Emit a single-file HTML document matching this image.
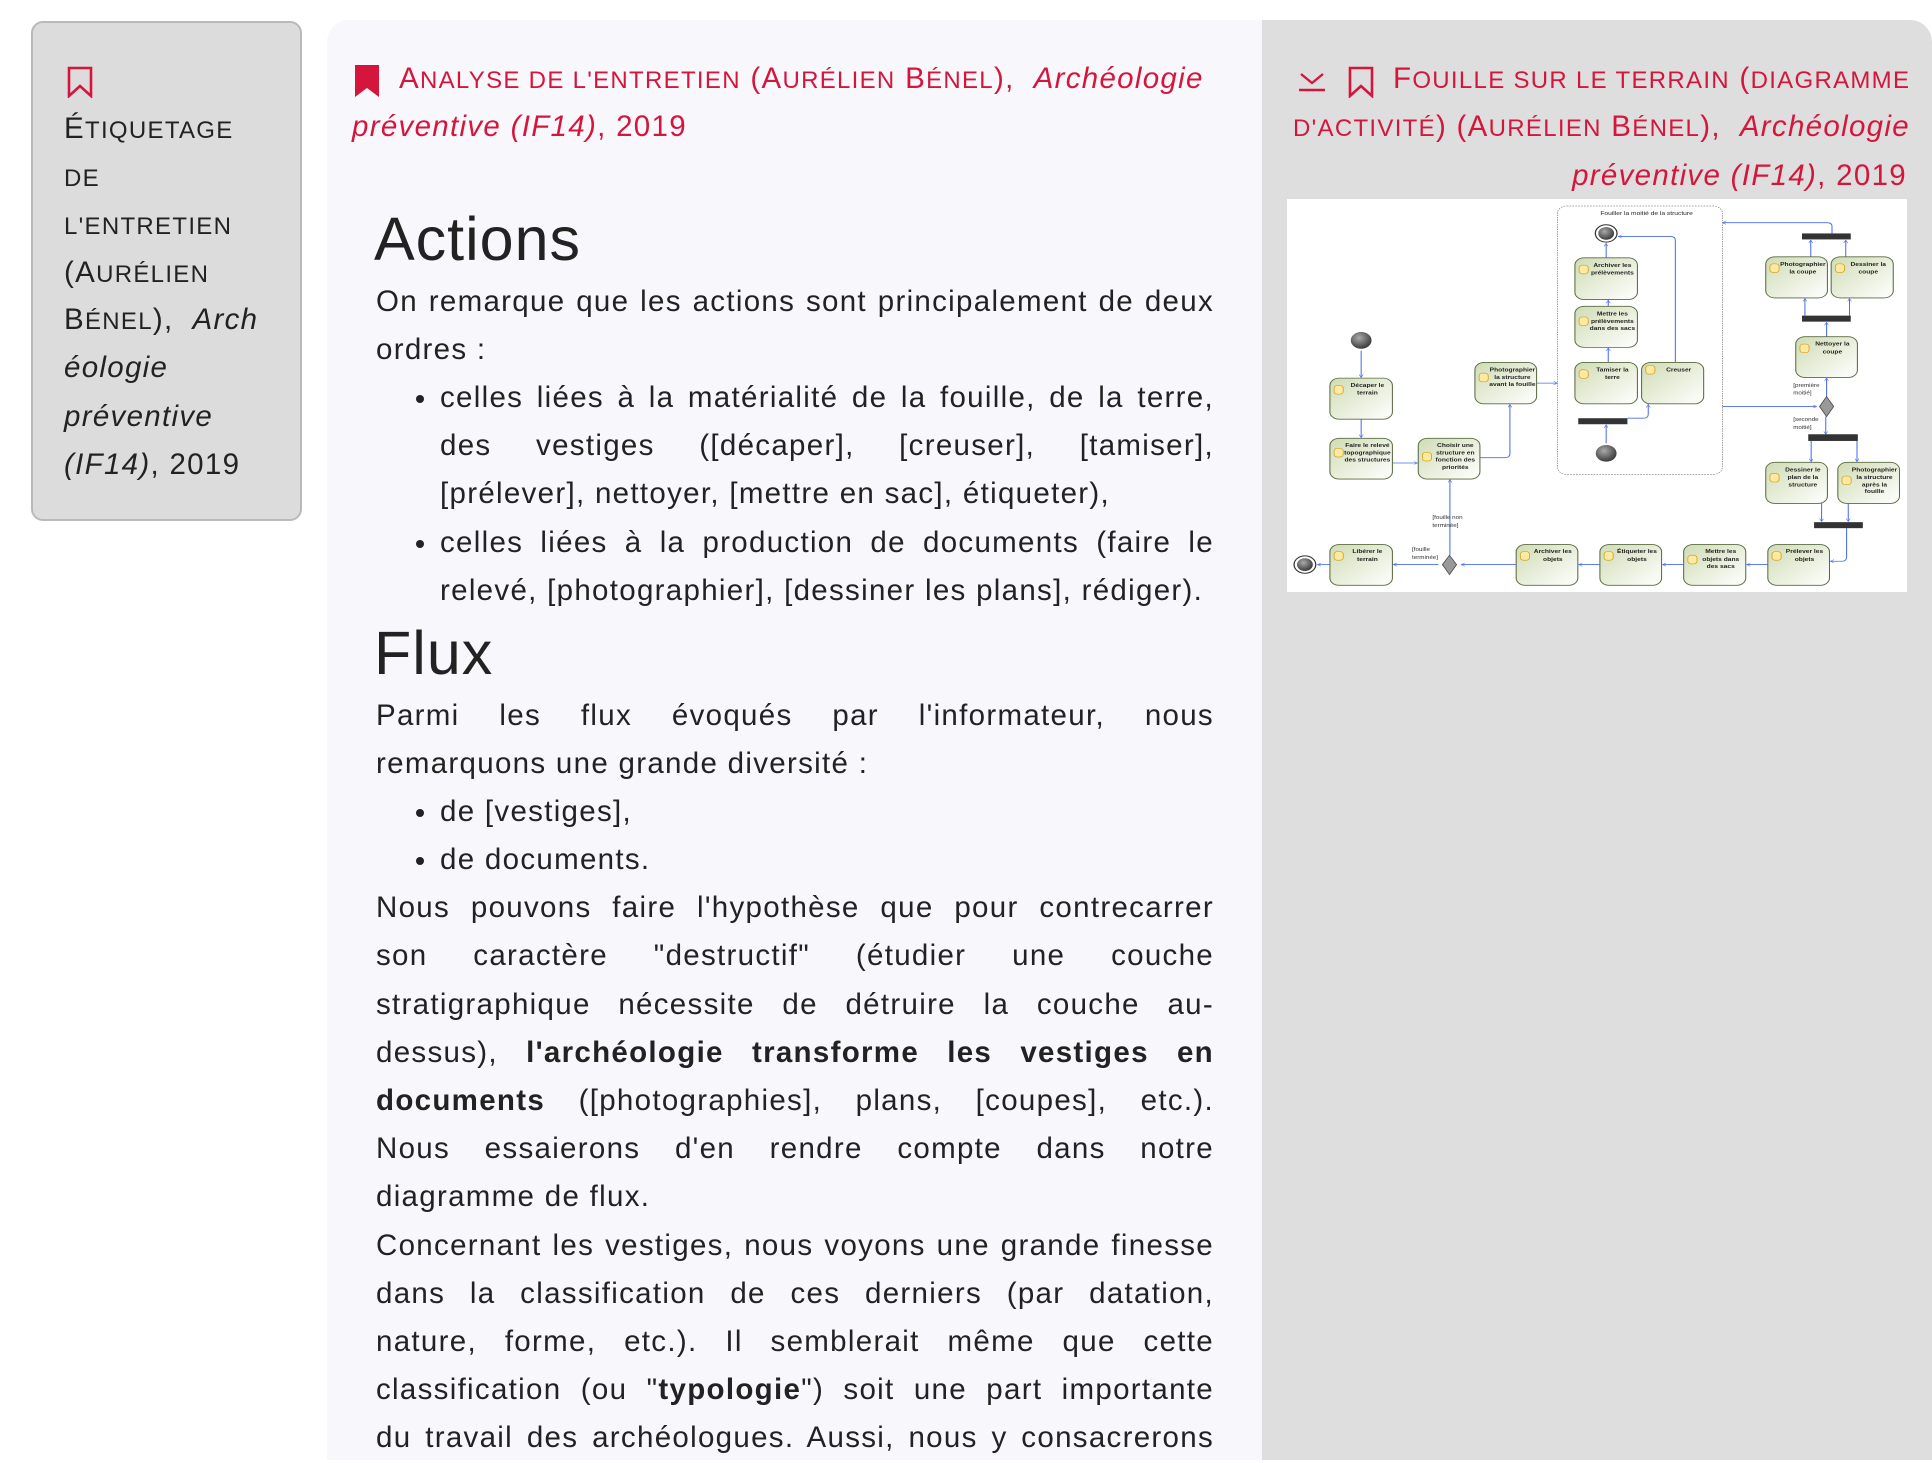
<!DOCTYPE html>
<html><head><meta charset="utf-8">
<style>
*{margin:0;padding:0;box-sizing:border-box}
html,body{width:1932px;height:1450px;overflow:hidden;background:#fff;font-family:"Liberation Sans",sans-serif;color:#222}
.left{position:absolute;left:31px;top:21px;width:271px;height:500px;background:#dcdcdc;border:2px solid #b9b9b9;border-radius:12px}
.mid{position:absolute;left:327px;top:20px;width:935px;height:1440px;background:#f8f8fc;border-radius:22px 0 0 0}
.right{position:absolute;left:1262px;top:20px;width:670px;height:1440px;background:#dedede;border-radius:0 22px 0 0}
.red{color:#d4163c}
.s{font-size:24px}
.ln{position:absolute;font-size:29.5px;line-height:48px;height:48px;white-space:nowrap;letter-spacing:1.3px}
.txt{position:absolute;left:376px;top:277.6px;width:838px;font-size:29.5px;letter-spacing:1.3px}
.txt div{height:48.2px;line-height:48.2px;white-space:nowrap}
.j{text-align:justify;text-align-last:justify}
.b{padding-left:64px;position:relative}
.bu::before{content:"";position:absolute;left:40px;top:21px;width:8px;height:8px;border-radius:50%;background:#222}
h1{position:absolute;left:374px;font-size:61px;font-weight:normal;line-height:70px;color:#222;letter-spacing:1px}
</style></head><body>
<div class="left"></div>
<div class="mid"></div>
<div class="right"></div>

<!-- left panel -->
<svg style="position:absolute;left:67px;top:66px" width="26" height="32" viewBox="0 0 26 32"><path d="M2 2H24V30L13 20L2 30Z" fill="none" stroke="#d4163c" stroke-width="2.6"/></svg>
<div class="ln" style="left:64px;top:104.5px">É<span class="s">TIQUETAGE</span></div>
<div class="ln" style="left:64px;top:152.8px"><span class="s">DE</span></div>
<div class="ln" style="left:64px;top:201px"><span class="s">L'ENTRETIEN</span></div>
<div class="ln" style="left:64px;top:249.2px">(A<span class="s">URÉLIEN</span></div>
<div class="ln" style="left:64px;top:296px">B<span class="s">ÉNEL</span>),&nbsp; <i>Arch</i></div>
<div class="ln" style="left:64px;top:344.3px"><i>éologie</i></div>
<div class="ln" style="left:64px;top:392.5px"><i>préventive</i></div>
<div class="ln" style="left:64px;top:440.7px"><i>(IF14)</i>, 2019</div>

<!-- middle title -->
<svg style="position:absolute;left:354px;top:64px" width="26" height="34" viewBox="0 0 26 34"><path d="M1 1H25V33L13 24L1 33Z" fill="#d4163c"/></svg>
<div class="ln red" style="left:399px;top:55px">A<span class="s">NALYSE DE L'ENTRETIEN</span> (A<span class="s">URÉLIEN</span> B<span class="s">ÉNEL</span>),&nbsp; <i>Archéologie</i></div>
<div class="ln red" style="left:352px;top:103px"><i>préventive (IF14)</i>, 2019</div>

<h1 style="top:204px">Actions</h1>
<div class="txt">
<div class="j">On remarque que les actions sont principalement de deux</div>
<div>ordres :</div>
<div class="b bu j">celles liées à la matérialité de la fouille, de la terre,</div>
<div class="b j">des vestiges ([décaper], [creuser], [tamiser],</div>
<div class="b">[prélever], nettoyer, [mettre en sac], étiqueter),</div>
<div class="b bu j">celles liées à la production de documents (faire le</div>
<div class="b">relevé, [photographier], [dessiner les plans], rédiger).</div>
<div style="height:76.6px"></div>
<div class="j">Parmi les flux évoqués par l'informateur, nous</div>
<div>remarquons une grande diversité :</div>
<div class="b bu">de [vestiges],</div>
<div class="b bu">de documents.</div>
<div class="j">Nous pouvons faire l'hypothèse que pour contrecarrer</div>
<div class="j">son caractère "destructif" (étudier une couche</div>
<div class="j">stratigraphique nécessite de détruire la couche au-</div>
<div class="j">dessus), <b>l'archéologie transforme les vestiges en</b></div>
<div class="j"><b>documents</b> ([photographies], plans, [coupes], etc.).</div>
<div class="j">Nous essaierons d'en rendre compte dans notre</div>
<div>diagramme de flux.</div>
<div class="j">Concernant les vestiges, nous voyons une grande finesse</div>
<div class="j">dans la classification de ces derniers (par datation,</div>
<div class="j">nature, forme, etc.). Il semblerait même que cette</div>
<div class="j">classification (ou "<b>typologie</b>") soit une part importante</div>
<div class="j">du travail des archéologues. Aussi, nous y consacrerons</div>
</div>
<h1 style="top:618px">Flux</h1>

<!-- right title -->
<svg style="position:absolute;left:1297px;top:70px" width="30" height="22" viewBox="0 0 30 22"><path d="M4 4L15 13L26 4M2 20H28" fill="none" stroke="#d4163c" stroke-width="2.4"/></svg>
<svg style="position:absolute;left:1348px;top:66px" width="26" height="32" viewBox="0 0 26 32"><path d="M2 2H24V30L13 20L2 30Z" fill="none" stroke="#d4163c" stroke-width="2.6"/></svg>
<div class="ln red" style="left:1393px;top:55px;width:514px;text-align:justify;text-align-last:justify">F<span class="s">OUILLE SUR LE TERRAIN</span> (<span class="s">DIAGRAMME</span></div>
<div class="ln red" style="left:1293px;top:103px;width:614px;text-align:justify;text-align-last:justify"><span class="s">D'ACTIVITÉ</span>) (A<span class="s">URÉLIEN</span> B<span class="s">ÉNEL</span>),&nbsp; <i>Archéologie</i></div>
<div class="ln red" style="left:1293px;top:152px;width:614px;text-align:right"><i>préventive (IF14)</i>, 2019</div>

<!-- diagram -->
<svg style="position:absolute;left:1287px;top:199px;background:#fff" width="620" height="393" viewBox="7 24 1488 1176" preserveAspectRatio="none">
<defs>
<linearGradient id="g" x1="0" y1="0" x2="1" y2="1"><stop offset="0" stop-color="#cfdcb4"/><stop offset="1" stop-color="#fff"/></linearGradient>
<radialGradient id="c" cx="0.4" cy="0.35" r="0.7"><stop offset="0" stop-color="#aaa"/><stop offset="1" stop-color="#333"/></radialGradient>
<marker id="a" markerWidth="10" markerHeight="10" refX="9" refY="5" orient="auto" markerUnits="userSpaceOnUse"><path d="M0 0L9 5L0 10" fill="none" stroke="#4a6cf0" stroke-width="1.5"/></marker>
</defs>
<g fill="none" stroke="#4a6cf0" stroke-width="2.5" marker-end="url(#a)">
<path d="M185 478V558"/><path d="M185 683V738"/><path d="M260 814H320"/>
<path d="M470 798H530Q542 798 542 786V639"/><path d="M606 575H656"/>
<path d="M773 755V700"/><path d="M824 680H862Q874 680 874 668V639"/>
<path d="M778 513V470"/><path d="M778 345V327"/><path d="M773 200V157"/>
<path d="M939 513V148Q939 136 927 136H802"/>
<path d="M1052 645H1278"/><path d="M1302 615V560"/><path d="M1302 436V393"/>
<path d="M1250 373V322"/><path d="M1357 373V322"/><path d="M1264 197V147"/><path d="M1348 197V147"/>
<path d="M1315 127V106Q1315 95 1303 95H1052"/>
<path d="M1300 675V728"/><path d="M1265 748V810"/><path d="M1375 748V810"/>
<path d="M1290 935V989"/><path d="M1354 935V989"/>
<path d="M1350 1009V1096Q1350 1108 1338 1108H1311"/>
<path d="M1161 1118H1110"/><path d="M959 1118H908"/><path d="M758 1118H707"/><path d="M557 1118H425"/>
<path d="M398 1090V864"/><path d="M370 1118H262"/><path d="M110 1118H80"/>
</g>
<rect x="656" y="45" width="396" height="803" rx="22" fill="none" stroke="#888" stroke-width="2" stroke-dasharray="4 3"/>
<text x="870" y="72" font-size="16" text-anchor="middle" fill="#222" font-family="Liberation Sans">Fouiller la moitié de la structure</text>
<g stroke="#5a6b40" stroke-width="2.5" fill="url(#g)">
<rect x="110" y="560" width="150" height="123" rx="22"/><rect x="110" y="740" width="150" height="122" rx="22"/>
<rect x="322" y="740" width="148" height="122" rx="22"/><rect x="458" y="513" width="148" height="124" rx="22"/>
<rect x="698" y="200" width="150" height="125" rx="22"/><rect x="698" y="345" width="150" height="123" rx="22"/>
<rect x="698" y="513" width="150" height="124" rx="22"/><rect x="858" y="513" width="149" height="124" rx="22"/>
<rect x="1156" y="197" width="148" height="123" rx="22"/><rect x="1313" y="197" width="149" height="123" rx="22"/>
<rect x="1228" y="436" width="148" height="122" rx="22"/><rect x="1156" y="812" width="148" height="123" rx="22"/>
<rect x="1329" y="812" width="148" height="123" rx="22"/><rect x="1161" y="1058" width="148" height="122" rx="22"/>
<rect x="959" y="1058" width="149" height="122" rx="22"/><rect x="758" y="1058" width="148" height="122" rx="22"/>
<rect x="557" y="1058" width="148" height="122" rx="22"/><rect x="110" y="1058" width="150" height="122" rx="22"/>
</g>
<g fill="#333"><rect x="706" y="680" width="118" height="18"/><rect x="1243" y="127" width="117" height="18"/><rect x="1243" y="373" width="117" height="18"/><rect x="1258" y="728" width="119" height="20"/><rect x="1272" y="991" width="117" height="18"/></g>
<g fill="#999" stroke="#444" stroke-width="2"><path d="M1302 615L1319 645L1302 675L1285 645Z"/><path d="M397 1090L414 1118L397 1148L380 1118Z"/></g>
<g fill="url(#c)"><circle cx="185" cy="447" r="25"/><circle cx="773" cy="785" r="25"/><circle cx="773" cy="127" r="19"/><circle cx="50" cy="1118" r="19"/></g>
<g fill="none" stroke="#333" stroke-width="3"><circle cx="773" cy="127" r="26"/><circle cx="50" cy="1118" r="26"/></g>
<g fill="#fde9a0" stroke="#d4a020" stroke-width="2">
<rect x="120" y="582" width="22" height="26" rx="8"/><rect x="120" y="770" width="22" height="26" rx="8"/><rect x="332" y="782" width="22" height="26" rx="8"/><rect x="468" y="545" width="22" height="26" rx="8"/><rect x="708" y="222" width="22" height="26" rx="8"/><rect x="708" y="377" width="22" height="26" rx="8"/><rect x="708" y="535" width="22" height="26" rx="8"/><rect x="868" y="522" width="22" height="26" rx="8"/><rect x="1166" y="218" width="22" height="26" rx="8"/><rect x="1323" y="218" width="22" height="26" rx="8"/><rect x="1238" y="458" width="22" height="26" rx="8"/><rect x="1166" y="845" width="22" height="26" rx="8"/><rect x="1339" y="853" width="22" height="26" rx="8"/><rect x="1171" y="1079" width="22" height="26" rx="8"/><rect x="969" y="1090" width="22" height="26" rx="8"/><rect x="768" y="1079" width="22" height="26" rx="8"/><rect x="567" y="1079" width="22" height="26" rx="8"/><rect x="120" y="1079" width="22" height="26" rx="8"/>
</g>
<g font-family="Liberation Sans" font-size="16" font-weight="bold" fill="#222" text-anchor="middle">
<text x="200" y="586">Décaper le</text><text x="200" y="609">terrain</text>
<text x="200" y="766">Faire le relevé</text><text x="200" y="789">topographique</text><text x="200" y="810">des structures</text>
<text x="411" y="766">Choisir une</text><text x="411" y="789">structure en</text><text x="411" y="810">fonction des</text><text x="411" y="832">priorités</text>
<text x="548" y="540">Photographier</text><text x="548" y="562">la structure</text><text x="548" y="584">avant la fouille</text>
<text x="788" y="228">Archiver les</text><text x="788" y="250">prélèvements</text>
<text x="788" y="372">Mettre les</text><text x="788" y="395">prélèvements</text><text x="788" y="416">dans des sacs</text>
<text x="788" y="540">Tamiser la</text><text x="788" y="563">terre</text><text x="947" y="540">Creuser</text>
<text x="1245" y="224">Photographier</text><text x="1245" y="247">la coupe</text>
<text x="1402" y="224">Dessiner la</text><text x="1402" y="247">coupe</text>
<text x="1316" y="463">Nettoyer la</text><text x="1316" y="486">coupe</text>
<text x="1245" y="839">Dessiner le</text><text x="1245" y="862">plan de la</text><text x="1245" y="884">structure</text>
<text x="1417" y="839">Photographier</text><text x="1417" y="862">la structure</text><text x="1417" y="884">après la</text><text x="1417" y="904">fouille</text>
<text x="1249" y="1084">Prélever les</text><text x="1249" y="1107">objets</text>
<text x="1048" y="1084">Mettre les</text><text x="1048" y="1107">objets dans</text><text x="1048" y="1128">des sacs</text>
<text x="847" y="1084">Étiqueter les</text><text x="847" y="1107">objets</text>
<text x="645" y="1084">Archiver les</text><text x="645" y="1107">objets</text>
<text x="200" y="1084">Libérer le</text><text x="200" y="1107">terrain</text>
</g>
<g font-family="Liberation Sans" font-size="15" fill="#333">
<text x="1222" y="586">[première</text><text x="1222" y="609">moitié]</text>
<text x="1222" y="689">[seconde</text><text x="1222" y="712">moitié]</text>
<text x="356" y="982">[fouille non</text><text x="356" y="1005">terminée]</text>
<text x="307" y="1078">[fouille</text><text x="307" y="1101">terminée]</text>
</g>
</svg>
</body></html>
